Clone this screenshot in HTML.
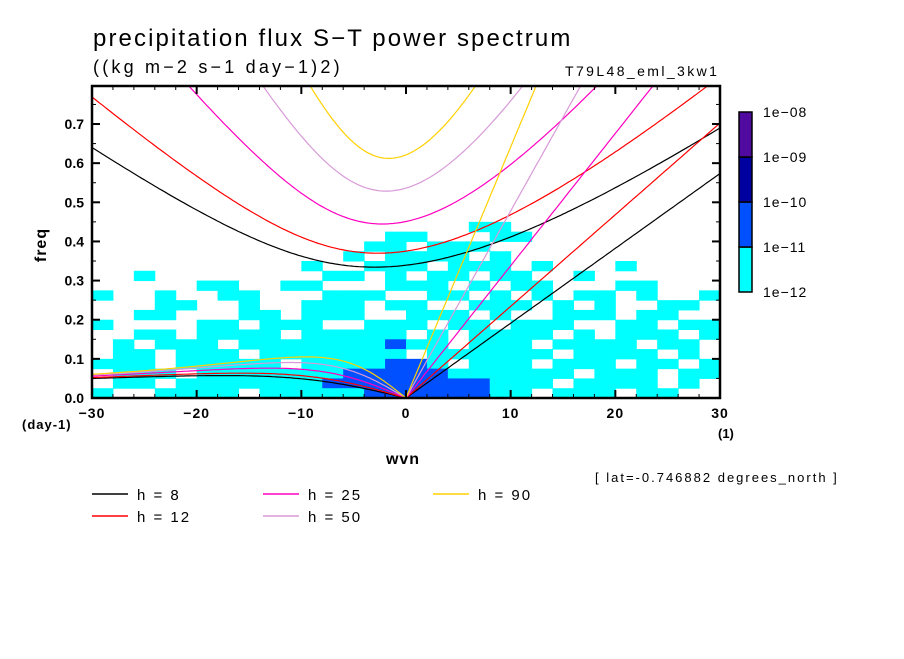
<!DOCTYPE html>
<html><head><meta charset="utf-8"><style>
body{margin:0;background:#fff}
svg text{font-family:"Liberation Sans",sans-serif;fill:#000}
</style></head><body>
<svg id="chart" width="904" height="654" viewBox="0 0 904 654" xmlns="http://www.w3.org/2000/svg">
<defs><clipPath id="plotclip"><rect x="92" y="86" width="628" height="312"/></clipPath></defs>
<g id="field" clip-path="url(#plotclip)"></g>
<g id="curves" clip-path="url(#plotclip)"></g>
<g id="axes"></g>
<text x="93" y="46" font-size="24" letter-spacing="2.1">precipitation flux S−T power spectrum</text>
<text x="93" y="73" font-size="18" letter-spacing="3.2">((kg m−2 s−1 day−1)2)</text>
<text x="565" y="76" font-size="14" letter-spacing="2.4">T79L48_eml_3kw1</text>
<text x="46" y="245" font-size="16" font-weight="bold" letter-spacing="1" transform="rotate(-90 46 245)" text-anchor="middle">freq</text>
<text x="403" y="464" font-size="16" font-weight="bold" letter-spacing="1" text-anchor="middle">wvn</text>
<text x="22" y="429" font-size="13" font-weight="bold" letter-spacing="1">(day-1)</text>
<text x="718" y="438" font-size="13" font-weight="bold">(1)</text>
<text x="595" y="482" font-size="13" letter-spacing="2">[ lat=-0.746882 degrees_north ]</text>
<g id="colorbar"></g>
<g id="legend"></g>
</svg>
<script>
const xTicks=[-30,-20,-10,0,10,20,30];
const yTicks=[0.0,0.1,0.2,0.3,0.4,0.5,0.6,0.7];
const hValues=[8,12,25,50,90];
const hColors=["#000000","#ff0000","#ff00c0","#d89ad8","#ffd000"];
const cbLabels=["1e-12","1e-11","1e-10","1e-09","1e-08"];
const cbColors=["#00ffff","#0050ff","#0000a0","#500aa0"];
// power level grid: rows from freq 0.45 (top) down to 0; columns wvn -30..30 step 2
const fieldRows=[
"000000000000000000110000000000",
"000000000000001100011000000000",
"000000000000011011100000000000",
"000000000000101111010000000000",
"000000000010011101110100010000",
"001000000001101011011001000000",
"000001100110001110101100011000",
"100100110001110011010101101001",
"000110010011101100111010100110",
"001100011011100111010011101100",
"100001101110011101101110011011",
"001101111011111010111101011101",
"010111011111112110111011110110",
"011011101111111011111101111010",
"111011111011112210111011101101",
"011101111111222221111110111011",
"011011111112222222211101111010",
"100111101111122222211011101100"];
const NS="http://www.w3.org/2000/svg";
const X0=92,X1=720,Y0=398,Y1=86,FMAX=(398-86)/391.4;
const sx=w=>X0+(w+30)/60*(X1-X0);
const sy=f=>Y0-f/FMAX*(Y0-Y1);
function mk(tag,attrs,parent){const e=document.createElementNS(NS,tag);for(const k in attrs)e.setAttribute(k,attrs[k]);parent.appendChild(e);return e;}
const field=document.getElementById('field');
const nR=fieldRows.length,df=0.025;
fieldRows.forEach((row,r)=>{
  const fTop=(nR-r)*df;
  for(let c=0;c<row.length;c++){
    const lv=+row[c]; if(!lv)continue;
    const w=-30+2*c;
    const e=mk('rect',{x:sx(w),y:sy(fTop),width:sx(w+2)-sx(w)+0.5,height:sy(fTop-df)-sy(fTop)+0.5,fill:cbColors[lv-1]},field);
    
    
  }
});
const g=9.81,a=6.371e6,beta=2*7.292e-5/a,cpd=86400/(2*Math.PI);
function roots(c,k){
  const A=c*c*k*k+3*beta*c,B=beta*c*c*k;
  const f=w=>w*w*w-A*w-B, d=w=>3*w*w-A;
  const solve=w=>{for(let i=0;i<60;i++)w-=f(w)/d(w);return w;};
  return {ig:solve(Math.sqrt(A)*1.5),er:solve(-B/A)};
}
const curves=document.getElementById('curves');
hValues.forEach((h,i)=>{
  const c=Math.sqrt(g*h);
  let kel=[],ig=[],er=[];
  for(let s=-30;s<=30.001;s+=0.25){
    const k=s/a, r=roots(c,k);
    ig.push([sx(s),sy(r.ig*cpd)]);
    if(s<=0)er.push([sx(s),sy(r.er*cpd)]);
    if(s>=0)kel.push([sx(s),sy(c*k*cpd)]);
  }
  [['kelvin',kel],['ig',ig],['er',er]].forEach(([nm,pts])=>{
    const e=mk('polyline',{points:pts.map(p=>p[0].toFixed(1)+','+p[1].toFixed(1)).join(' '),fill:'none',stroke:hColors[i],'stroke-width':1.2},curves);
    
    
  });
});
const ax=document.getElementById('axes');
mk('rect',{x:X0,y:Y1,width:X1-X0,height:Y0-Y1,fill:'none',stroke:'#000','stroke-width':2.5},ax);
for(let w=-30;w<=30;w+=2){const major=w%10===0,L=major?8:4;
  mk('line',{x1:sx(w),x2:sx(w),y1:Y0,y2:Y0-L,stroke:'#000','stroke-width':major?2:1},ax);
  mk('line',{x1:sx(w),x2:sx(w),y1:Y1,y2:Y1+L,stroke:'#000','stroke-width':major?2:1},ax);}
for(let f=0;f<=0.79;f+=0.05){const major=Math.round(f*100)%10===0,L=major?8:4;
  mk('line',{x1:X0,x2:X0+L,y1:sy(f),y2:sy(f),stroke:'#000','stroke-width':major?2:1},ax);
  mk('line',{x1:X1,x2:X1-L,y1:sy(f),y2:sy(f),stroke:'#000','stroke-width':major?2:1},ax);}
xTicks.forEach(w=>{const t=mk('text',{x:sx(w),y:418,'font-size':14,'font-weight':'bold','letter-spacing':1,'text-anchor':'middle'},ax);t.textContent=(w<0?'−':'')+Math.abs(w);
  });
yTicks.forEach(f=>{const t=mk('text',{x:84,y:sy(f)+5,'font-size':14,'font-weight':'bold','text-anchor':'end'},ax);t.textContent=f.toFixed(1);
  });
const cb=document.getElementById('colorbar');
cbColors.forEach((col,i)=>{const e=mk('rect',{x:739,y:292-45*(i+1),width:13,height:45,fill:col,stroke:'#000','stroke-width':1.5},cb);
  });
cbLabels.forEach((l,i)=>{const t=mk('text',{x:763,y:297-45*i,'font-size':14,'letter-spacing':1},cb);t.textContent=l.replace('-','−');
  });
const lg=document.getElementById('legend');
const pos=[[92,494],[92,516],[263,494],[263,516],[433,494]];
hValues.forEach((h,i)=>{const [x,y]=pos[i];
  const l=mk('line',{x1:x,x2:x+36,y1:y,y2:y,stroke:hColors[i],'stroke-width':1.5},lg);
  
  const t=mk('text',{x:x+45,y:y+6,'font-size':15,'letter-spacing':2,'xml:space':'preserve'},lg);t.textContent='h = '+(h<10?' ':'')+h;
  });
</script>
</body></html>
